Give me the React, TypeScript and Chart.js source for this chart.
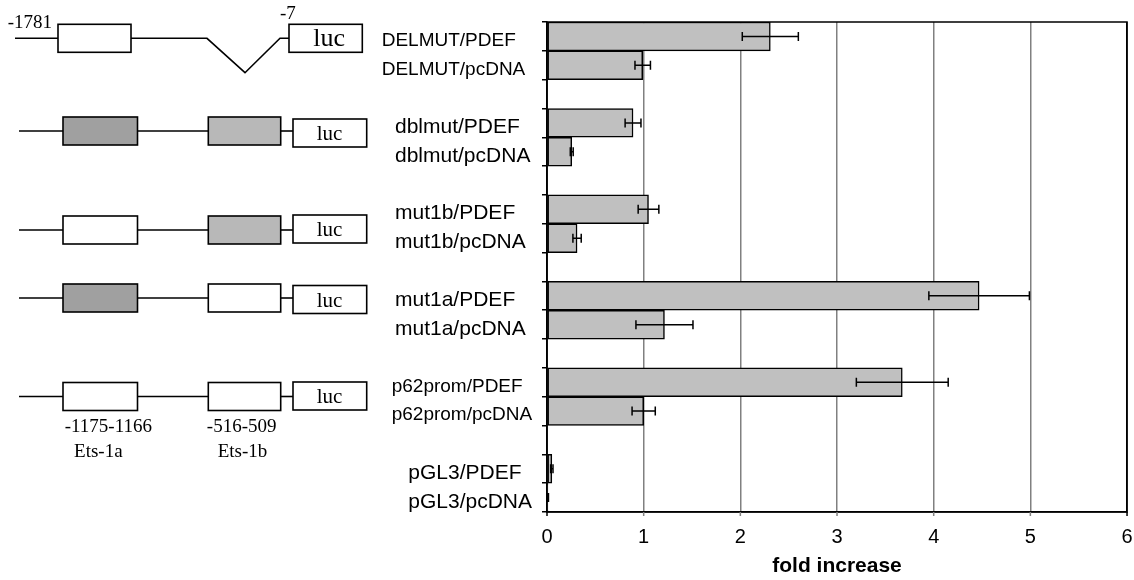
import React, { useEffect, useRef } from "react";
import { Chart, registerables } from "chart.js";
Chart.register(...registerables);

// ---------- data ----------
const constructs = ["DELMUT", "dblmut", "mut1b", "mut1a", "p62prom", "pGL3"];
const treatments = ["PDEF", "pcDNA"];
const pdefValues = [2.31, 0.89, 1.05, 4.47, 3.675, 0.05];
const pdefErrors = [0.29, 0.082, 0.107, 0.52, 0.475, 0.012];
const pcdnaValues = [0.99, 0.256, 0.311, 1.215, 1.0, 0.01];
const pcdnaErrors = [0.08, 0.015, 0.043, 0.295, 0.12, 0.005];
const xTicks = [0, 1, 2, 3, 4, 5, 6];
const axisTitle = "fold increase";

// construct diagrams (site states for Ets-1a and Ets-1b)
const diagramRows = [
  ["deleted", "deleted"],
  ["mutA", "mutB"],
  ["wt", "mutB"],
  ["mutA", "wt"],
  ["wt", "wt"],
];
const reporterText = "luc";
const endLabels = ["-1781", "-7"];
const siteLabels = ["-1175-1166", "-516-509"];
const siteNames = ["Ets-1a", "Ets-1b"];

// ---------- derived ----------
const categories: string[] = [];
const barValues: (number | null)[] = [];
const barErrors: (number | null)[] = [];
const groupOf: number[] = [];
constructs.forEach((c, g) => {
  categories.push(`${c}/${treatments[0]}`);
  barValues.push(pdefValues[g]);
  barErrors.push(pdefErrors[g]);
  groupOf.push(g);
  categories.push(`${c}/${treatments[1]}`);
  barValues.push(pcdnaValues[g]);
  barErrors.push(pcdnaErrors[g]);
  groupOf.push(g);
  if (g < constructs.length - 1) {
    categories.push(" ".repeat(g + 1));
    barValues.push(null);
    barErrors.push(null);
    groupOf.push(-1);
  }
});

// ---------- styles ----------
const SANS = "'Liberation Sans', Arial, sans-serif";
const SERIF = "'Liberation Serif', 'Times New Roman', serif";
const labelX = [381.7, 395, 395, 395, 391.7, 408.3];
const labelSize = [19, 21, 21, 21, 19, 21];
const fillMap: Record<string, string> = { wt: "#ffffff", mutA: "#a0a0a0", mutB: "#b8b8b8", deleted: "#ffffff" };
const rowY = [38.3, 131, 230, 298, 396.5];
const lucDy = [0, 2, -1, 1.5, -0.5];
const isEdge = (v: number) => v === xTicks[0] || v === xTicks[xTicks.length - 1];

const labelPlugin = {
  id: "groupLabels",
  afterDraw(chart: any) {
    const ctx = chart.ctx;
    const y = chart.scales.y;
    ctx.save();
    ctx.fillStyle = "#000";
    ctx.textAlign = "left";
    ctx.textBaseline = "alphabetic";
    categories.forEach((lab, i) => {
      const g = groupOf[i];
      if (g < 0) return;
      const size = labelSize[g];
      ctx.font = `${size}px ${SANS}`;
      const cy = y.getPixelForValue(i);
      ctx.fillText(lab, labelX[g], cy + 2.5 + size * 0.358);
    });
    ctx.restore();
  },
};

const errorPlugin = {
  id: "errorBars",
  afterDatasetsDraw(chart: any) {
    const ctx = chart.ctx;
    const xs = chart.scales.x;
    const ys = chart.scales.y;
    const a = chart.chartArea;
    ctx.save();
    ctx.strokeStyle = "#000";
    ctx.lineWidth = 1.5;
    ctx.strokeRect(a.left, a.top, a.right - a.left, a.bottom - a.top);
    // short x tick marks below the axis
    xTicks.forEach((v) => {
      const px = xs.getPixelForValue(v);
      ctx.strokeStyle = isEdge(v) ? "#000" : "#808080";
      ctx.beginPath();
      ctx.moveTo(px, a.bottom);
      ctx.lineTo(px, a.bottom + 4);
      ctx.stroke();
    });
    ctx.strokeStyle = "#000";
    barValues.forEach((v, i) => {
      const e = barErrors[i];
      if (v == null || e == null) return;
      const x1 = xs.getPixelForValue(v - e);
      const x2 = xs.getPixelForValue(v + e);
      const cy = ys.getPixelForValue(i);
      ctx.beginPath();
      ctx.moveTo(x1, cy);
      ctx.lineTo(x2, cy);
      ctx.moveTo(x1, cy - 4.5);
      ctx.lineTo(x1, cy + 4.5);
      ctx.moveTo(x2, cy - 4.5);
      ctx.lineTo(x2, cy + 4.5);
      ctx.stroke();
    });
    ctx.restore();
  },
};

const diagramPlugin = {
  id: "diagrams",
  afterDraw(chart: any) {
    const ctx = chart.ctx;
    ctx.save();
    ctx.strokeStyle = "#000";
    ctx.lineWidth = 1.6;
    const H = 28;
    const box = (x: number, y: number, w: number, fill: string) => {
      ctx.fillStyle = fill;
      ctx.fillRect(x, y - H / 2, w, H);
      ctx.strokeRect(x, y - H / 2, w, H);
    };
    const line = (pts: number[][]) => {
      ctx.beginPath();
      ctx.moveTo(pts[0][0], pts[0][1]);
      for (let k = 1; k < pts.length; k++) ctx.lineTo(pts[k][0], pts[k][1]);
      ctx.stroke();
    };
    const luc = (x: number, y: number, w: number, size: number, tx: number, base: number) => {
      box(x, y, w, "#ffffff");
      ctx.fillStyle = "#000";
      ctx.font = `${size}px ${SERIF}`;
      ctx.textAlign = "center";
      ctx.textBaseline = "alphabetic";
      ctx.fillText(reporterText, tx, y + base);
    };
    diagramRows.forEach((row, r) => {
      const y = rowY[r];
      if (row[0] === "deleted") {
        line([[15, y], [58, y]]);
        box(58, y, 73, fillMap.wt);
        line([[131, y], [207, y], [245, 72.7], [280, y], [289, y]]);
        luc(289, y, 73.3, 26, 329.2, 7.8);
        ctx.fillStyle = "#000";
        ctx.font = `19px ${SERIF}`;
        ctx.textAlign = "right";
        ctx.textBaseline = "alphabetic";
        ctx.fillText(endLabels[0], 52, 27.5);
        ctx.textAlign = "left";
        ctx.fillText(endLabels[1], 280, 19);
      } else {
        line([[19, y], [63, y]]);
        box(63, y, 74.5, fillMap[row[0]]);
        line([[137.5, y], [208.3, y]]);
        box(208.3, y, 72.4, fillMap[row[1]]);
        line([[280.7, y], [293, y]]);
        luc(293, y + lucDy[r], 73.7, 21, 329.5, 7);
      }
    });
    ctx.fillStyle = "#000";
    ctx.font = `19px ${SERIF}`;
    ctx.textAlign = "center";
    ctx.textBaseline = "middle";
    ctx.fillText(siteLabels[0], 108.3, 427);
    ctx.fillText(siteNames[0], 98.3, 452);
    ctx.fillText(siteLabels[1], 241.7, 427);
    ctx.fillText(siteNames[1], 242.5, 452);
    ctx.restore();
  },
};

export default function App() {
  const ref = useRef<HTMLCanvasElement | null>(null);
  useEffect(() => {
    document.body.style.margin = "0";
    const canvas = ref.current;
    if (!canvas) return;
    const chart = new Chart(canvas, {
      type: "bar",
      data: {
        labels: categories,
        datasets: [
          {
            data: barValues as any,
            backgroundColor: "#c0c0c0",
            borderColor: "#000",
            borderWidth: 1.5,
            borderSkipped: false,
            categoryPercentage: 1,
            barPercentage: 1,
          },
        ],
      },
      options: {
        indexAxis: "y",
        responsive: false,
        animation: false,
        devicePixelRatio: 1,
        layout: { padding: { top: 22, right: 0.5, bottom: 0, left: 0 } },
        plugins: { legend: { display: false }, tooltip: { enabled: false } },
        scales: {
          x: {
            type: "linear",
            min: xTicks[0],
            max: xTicks[xTicks.length - 1],
            afterBuildTicks: (s: any) => {
              s.ticks = xTicks.map((v) => ({ value: v }));
            },
            afterFit: (s: any) => {
              s.height = 68;
            },
            ticks: {
              color: "#000",
              font: { family: SANS, size: 20 },
              padding: 1.4,
              callback: (v: any) => String(v),
            },
            grid: {
              color: (c: any) => (c.tick && isEdge(c.tick.value) ? "#000" : "#808080"),
              tickColor: "rgba(0,0,0,0)",
              lineWidth: 1.5,
              tickLength: 12.3,
            },
            border: { display: true, color: "#000", width: 1.5 },
            title: {
              display: true,
              text: axisTitle,
              color: "#000",
              font: { family: SANS, size: 21, weight: "bold" },
              padding: { top: 0, bottom: 1.4 },
            },
          },
          y: {
            type: "category",
            offset: true,
            afterFit: (s: any) => {
              s.width = 547;
            },
            ticks: { display: false },
            grid: {
              offset: true,
              drawOnChartArea: false,
              drawTicks: true,
              tickLength: 5,
              color: "#000",
              lineWidth: 1.5,
            },
            border: { display: true, color: "#000", width: 1.5 },
          },
        },
      } as any,
      plugins: [errorPlugin, labelPlugin, diagramPlugin],
    });
    return () => chart.destroy();
  }, []);
  return (
    <canvas
      ref={ref}
      width={1134}
      height={580}
      style={{ position: "fixed", left: 0, top: 0, display: "block", background: "#fff" }}
    />
  );
}
